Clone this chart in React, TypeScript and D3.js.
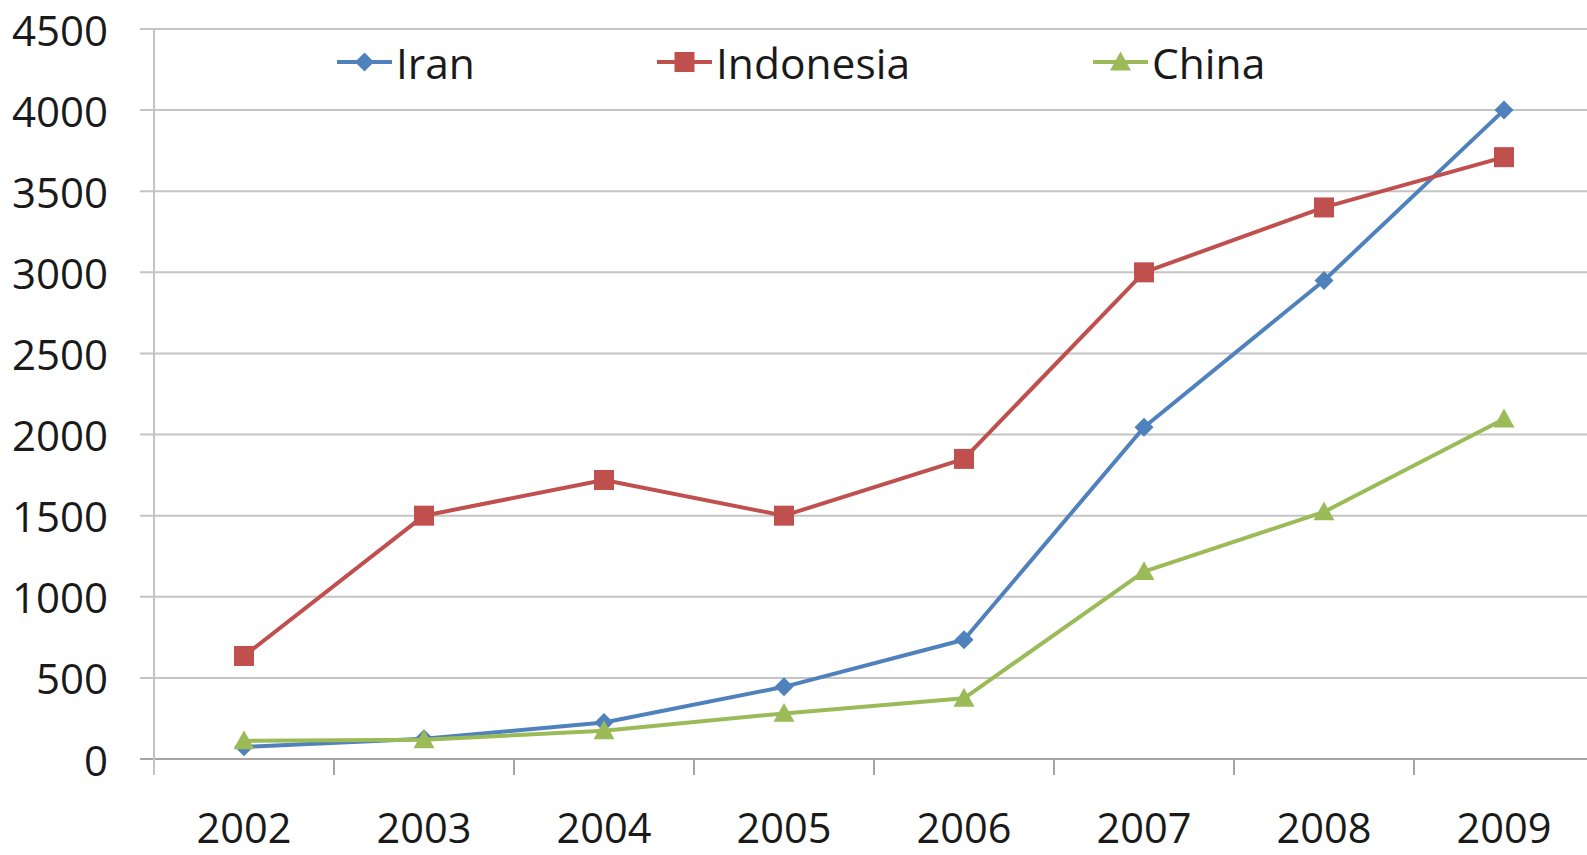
import React from "react";
import * as d3 from "d3";

const years = ["2002", "2003", "2004", "2005", "2006", "2007", "2008", "2009"];
const iran = [75, 125, 225, 445, 735, 2045, 2950, 4000];
const indonesia = [635, 1500, 1720, 1500, 1850, 3000, 3400, 3710];
const china = [112, 118, 174, 281, 374, 1155, 1523, 2096];
const yTicks = [0, 500, 1000, 1500, 2000, 2500, 3000, 3500, 4000, 4500];

const W = 1587;
const H = 855;
const FONT = "'Open Sans', 'Noto Sans', sans-serif";

const series = [
  { name: "Iran", values: iran, color: "#4F81BD", shape: "diamond", legendX: 337 },
  { name: "Indonesia", values: indonesia, color: "#C0504D", shape: "square", legendX: 657 },
  { name: "China", values: china, color: "#9BBB59", shape: "triangle", legendX: 1093 },
];

function Marker({ shape, x, y, color }: { shape: string; x: number; y: number; color: string }) {
  if (shape === "square") {
    return <rect x={x - 10} y={y - 10} width={20} height={20} fill={color} />;
  }
  if (shape === "diamond") {
    const r = 9.5;
    return <path d={`M${x},${y - r}L${x + r},${y}L${x},${y + r}L${x - r},${y}Z`} fill={color} />;
  }
  const r = 10.5;
  return (
    <path d={`M${x},${y - r}L${x + r},${y + r * 0.8}L${x - r},${y + r * 0.8}Z`} fill={color} />
  );
}

export default function App() {
  const x = d3.scaleBand<string>().domain(years).range([154, 1594]).padding(0);
  const y = d3.scaleLinear().domain([0, 4500]).range([759, 29]);
  const cx = (yr: string) => (x(yr) as number) + x.bandwidth() / 2;

  const line = d3
    .line<number>()
    .x((_, i) => cx(years[i]))
    .y((v) => y(v));

  const legendY = 62;

  return (
    <svg
      width={W}
      height={H}
      style={{ position: "fixed", left: 0, top: 0, background: "#fff" }}
      fontFamily={FONT}
    >
      <rect x={0} y={0} width={W} height={H} fill="#fff" />
      {/* horizontal gridlines */}
      {yTicks.map((t) => (
        <line
          key={"g" + t}
          x1={140}
          x2={W}
          y1={y(t)}
          y2={y(t)}
          stroke={t === 0 ? "#A6A6A6" : "#C4C4C4"}
          strokeWidth={2}
        />
      ))}
      {/* value axis */}
      <line x1={154} x2={154} y1={y(4500)} y2={775} stroke="#C4C4C4" strokeWidth={2} />
      {yTicks.map((t) => (
        <text
          key={"yl" + t}
          x={108}
          y={y(t)}
          textAnchor="end"
          dominantBaseline="central"
          fontSize={42}
          fill="#1a1a1a"
        >
          {t}
        </text>
      ))}
      {/* category axis ticks and labels */}
      {years.slice(1).map((yr) => (
        <line
          key={"t" + yr}
          x1={x(yr) as number}
          x2={x(yr) as number}
          y1={759}
          y2={775}
          stroke="#A6A6A6"
          strokeWidth={2}
        />
      ))}
      {years.map((yr) => (
        <text key={"xl" + yr} x={cx(yr)} y={843} textAnchor="middle" fontSize={41.5} fill="#1a1a1a">
          {yr}
        </text>
      ))}
      {/* series */}
      {series.map((s) => (
        <g key={s.name}>
          <path d={line(s.values) || ""} fill="none" stroke={s.color} strokeWidth={4} strokeLinejoin="round" />
          {s.values.map((v, i) => (
            <Marker key={i} shape={s.shape} x={cx(years[i])} y={y(v)} color={s.color} />
          ))}
        </g>
      ))}
      {/* legend */}
      {series.map((s) => (
        <g key={"lg" + s.name}>
          <line x1={s.legendX} x2={s.legendX + 55} y1={legendY} y2={legendY} stroke={s.color} strokeWidth={4} />
          <Marker shape={s.shape} x={s.legendX + 27.5} y={legendY} color={s.color} />
          <text
            x={s.legendX + 59}
            y={legendY}
            dominantBaseline="central"
            fontSize={42.5}
            fill="#1a1a1a"
          >
            {s.name}
          </text>
        </g>
      ))}
    </svg>
  );
}
